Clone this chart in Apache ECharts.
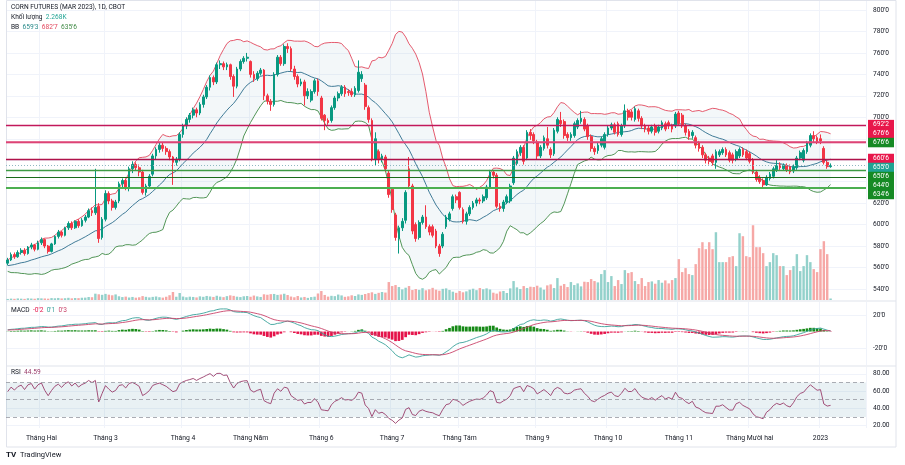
<!DOCTYPE html>
<html>
<head>
<meta charset="utf-8">
<script src="https://cdn.jsdelivr.net/npm/echarts@6/dist/echarts.min.js"></script>
<style>
  html, body { margin: 0; padding: 0; background: #fff; }
  #main { width: 905px; height: 465px; }
</style>
</head>
<body>
<div id="main"></div>
<script>
// month labels of the time scale and the bar index where each month starts
const monthLabels = ['Tháng Hai', 'Tháng 3', 'Tháng 4', 'Tháng Năm', 'Tháng 6', 'Tháng 7', 'Tháng Tám', 'Tháng 9', 'Tháng 10', 'Tháng 11', 'Tháng Mười hai', '2023']
const monthStarts = [10, 29, 52, 72, 93, 114, 134, 157, 178, 199, 220, 241]

const priceTicks = [540, 560, 580, 600, 620, 640, 660, 680, 700, 720, 740, 760, 780, 800]
const macdTicks = [-20, 20]
const rsiTicks = [20, 40, 60, 80]

// horizontal levels drawn on the chart
const resistLevels = [692.25, 676.75, 660.75]
const supportLevels = [676.75, 650.75, 644, 634.75]
const lastPrice = 655

// legend readouts
const volumeText = '2.268K'
const bbText = ["659'3", "682'7", "635'6"]
const macdText = ["-0'2", "0'1", "0'3"]
const rsiText = '44.59'

// closes before the first visible bar (only used to warm up the indicators)
const priorCloses = [554, 556, 553, 551, 555, 558, 556, 552, 550, 553, 557, 559, 556, 554, 557, 560, 562, 559, 557, 560,
  563, 561, 558, 560, 562, 565, 563, 560, 558, 561, 564, 566, 563, 561, 564]

// daily bars: [open, close, low, high]
const ohlc = [
  [564,567,562,569],[567,572,566,574],[572,570,568,574],[570,574,569,576],[574,576,572,578],
  [576,573,571,578],[573,579,572,580],[579,581,577,583],[581,577,575,582],[577,583,576,585],
  [583,586,581,588],[586,580,578,587],[580,575,573,581],[575,582,574,583],[582,589,581,590],
  [589,593,587,595],[593,590,588,594],[590,597,589,598],[597,601,595,603],[601,597,595,603],
  [597,603,596,604],[603,599,597,605],[599,604,598,606],[604,607,602,609],[607,613,606,615],
  [613,611,608,616],[611,616,609,652],[617,587,583,620],[588,605,586,607],[605,629,603,632],
  [629,622,619,631],[622,616,613,624],[616,621,614,623],[622,638,620,640],[638,641,634,643],
  [641,635,632,643],[634,652,631,654],[652,656,648,659],[656,653,650,658],[653,649,645,656],
  [649,630,628,651],[630,636,627,638],[636,645,634,647],[647,664,645,666],[664,670,661,672],
  [670,674,667,676],[674,671,668,676],[671,668,665,673],[668,663,660,670],[663,658,637,664],
  [658,661,655,663],[661,684,659,686],[684,692,681,694],[692,698,689,700],[698,702,695,704],
  [702,707,699,709],[707,704,700,709],[704,712,702,714],[712,719,709,721],[719,728,717,730],
  [728,737,725,739],[737,733,730,739],[733,749,731,751],[749,750,745,753],[750,747,744,752],
  [747,749,744,751],[749,738,735,750],[738,729,719,740],[729,745,727,747],[745,752,743,754],
  [752,755,750,757],[755,756,752,760],[752,740,737,753],[740,736,733,743],[736,741,734,743],
  [741,744,739,746],[744,720,716,745],[720,715,712,722],[715,712,706,717],[712,740,710,742],
  [740,756,738,758],[756,750,748,758],[750,766,748,768],[766,764,760,769],[764,745,743,766],
  [745,738,735,748],[738,731,728,740],[731,733,729,736],[733,720,711,735],[720,724,717,727],
  [716,724,714,726],[724,734,722,736],[734,724,720,736],[718,699,697,720],[702,697,688,703],
  [697,695,693,699],[697,709,695,711],[709,718,707,720],[718,722,715,724],[722,728,720,730],
  [728,722,719,730],[724,723,720,726],[724,721,719,727],[721,727,719,729],[725,742,723,753],
  [736,740,733,743],[730,710,707,732],[709,698,695,711],[697,661,659,699],[661,680,655,686],
  [668,661,657,670],[661,664,658,666],[663,652,649,665],[648,628,625,650],[633,614,611,635],
  [609,588,585,611],[587,597,573,599],[597,603,594,606],[604,630,601,632],[652,636,633,663],
  [636,594,591,638],[600,587,584,602],[588,602,586,604],[602,607,600,609],[607,598,596,618],
  [598,593,590,600],[598,590,588,600],[594,580,578,596],[580,573,570,582],[580,591,578,593],
  [598,607,596,609],[605,610,603,612],[615,626,613,628],[626,623,620,628],[630,616,614,631],
  [614,603,601,616],[603,610,600,612],[610,616,608,618],[616,620,614,622],[620,623,617,625],
  [623,622,619,625],[622,626,620,628],[625,635,623,637],[635,649,633,651],[649,646,643,651],
  [646,617,615,648],[617,615,612,620],[615,621,612,623],[621,626,619,628],[622,636,620,638],
  [639,662,637,664],[657,668,655,670],[667,672,664,674],[672,659,656,674],[662,686,660,688],
  [686,683,679,689],[684,678,675,686],[677,664,661,679],[664,672,662,674],[671,681,669,683],
  [680,674,671,691],[670,665,662,672],[666,688,664,690],[687,698,685,700],[697,694,691,705],
  [696,683,680,698],[684,681,678,686],[681,684,678,686],[683,694,681,696],[691,697,689,699],
  [696,699,694,706],[698,689,687,700],[692,682,679,694],[682,671,668,684],[671,668,665,673],
  [669,674,666,676],[674,680,672,682],[672,684,670,686],[684,690,682,692],[690,693,688,695],
  [693,686,684,695],[694,684,682,696],[684,692,682,694],[692,706,690,712],[706,700,697,708],
  [705,700,697,707],[698,708,696,710],[706,699,696,708],[699,692,689,701],[692,689,686,694],
  [690,687,684,692],[687,691,685,693],[692,686,683,694],[687,691,685,693],[690,695,688,697],
  [694,689,687,696],[695,692,689,697],[692,689,686,694],[692,703,690,705],[704,694,692,706],
  [702,692,690,704],[692,686,683,694],[687,682,679,689],[683,686,680,688],[681,674,671,683],
  [676,671,668,678],[672,665,662,674],[665,660,657,667],[662,659,656,664],[664,658,655,666],
  [658,668,652,670],[665,668,663,670],[667,670,665,672],[670,665,663,672],[667,660,658,669],
  [665,660,657,667],[661,668,659,670],[664,670,662,672],[670,665,663,672],[668,662,660,670],
  [666,659,657,668],[660,649,647,662],[649,642,640,651],[644,640,638,646],[641,637,635,643],
  [637,644,636,646],[643,647,641,649],[645,652,643,654],[651,655,649,660],[656,653,651,658],
  [652,655,650,657],[655,651,649,657],[654,649,647,656],[650,654,648,656],[653,662,651,664],
  [662,667,660,669],[660,669,658,671],[668,676,666,678],[674,683,672,685],[683,680,677,687],
  [681,677,675,683],[680,678,675,684],[671,658,656,673],[658,654,652,660],[654,655,653,657]
]

// daily volume, thousands of contracts
const volume = [
  1.6,2.1,1.8,2.4,2.0,1.7,2.6,2.2,1.9,2.8,2.5,2.3,2.0,2.9,2.6,3.1,2.4,2.7,3.3,2.5,3.0,2.8,3.4,3.6,
  4.5,4.2,
  9.5,8.6,7.8,9.2,8.0,7.1,8.4,
  5.6,4.4,5.1,3.8,4.6,3.5,4.1,5.9,4.8,3.9,4.7,5.3,4.2,3.6,4.9,
  7.2,12.0,4.9,10.5,
  5.2,4.1,5.0,4.6,3.9,
  5.5,4.8,6.1,5.3,4.6,6.4,5.1,4.3,5.8,7.0,6.2,5.0,4.4,5.6,6.0,4.9,6.7,5.4,4.6,
  8.6,7.9,8.8,9.1,7.7,8.3,9.4,7.5,
  5.2,4.1,6.0,3.8,4.6,3.2,4.4,5.0,
  9.8,13.5,
  7.6,5.1,6.3,5.8,8.2,6.9,4.8,5.5,7.1,6.0,8.4,7.7,
  9.0,10.4,11.6,9.2,10.8,12.0,11.2,
  27,21,22.5,19.5,
  16,18.5,21,15,
  16.5,15.2,17.8,14.6,16.0,18.3,15.5,14.0,16.8,17.5,15.0,
  12.5,10.8,13.5,11.6,13.0,
  15.5,17.0,14.8,18.0,16.2,17.5,15.8,
  11.0,9.6,12.8,13.6,10.5,
  17.5,28.5,
  19.0,16.5,21.0,18.0,
  20.0,19.5,21.5,18.8,
  15.5,22.0,23.5,18.0,
  33,
  21.5,24.0,19.5,27.0,22.5,25.0,20.5,27.5,
  27.0,31.5,28.5,26.5,39.0,45.0,
  27.0,36.0,21.0,30.0,24.0,
  45,
  40.5,42.0,
  28.5,24.0,33.0,21.0,27.0,
  28.0,24.5,30.0,26.0,29.5,25.0,
  30.0,33.0,
  61.5,
  42.0,48.0,39.0,37.5,
  54,
  78.0,87.0,76.5,87.0,76.5,102.0,
  57.0,57.0,57.0,
  64.5,66.0,51.0,
  100.5,96.0,66.0,64.5,
  112.5,
  79.5,79.5,70.5,51.0,57.0,70.5,67.5,51.0,51.0,37.5,45.0,51.0,
  69.0,43.5,51.0,67.5,57.0,46.5,42.0,76.5,88.5,69.0,2.268
]

// ---------- helpers ----------
function fmt8(v) {
  const neg = v < 0
  v = Math.abs(v)
  let i = Math.floor(v + 1e-9)
  let f = Math.round((v - i) * 8)
  if (f === 8) { i++; f = 0 }
  return (neg ? '-' : '') + i + "'" + f
}

const UP = '#089981', DOWN = '#F23645'
const FONT = 'Roboto'
const TXT = '#131722'
const RED_BOX = '#E8174B', GREEN_BOX = '#168A24', TEAL_BOX = '#1FA393'

// indicators from closes (warm-up bars are dropped afterwards)
const closes = priorCloses.concat(ohlc.map(d => d[1]))
const skip = priorCloses.length

const bbMid = [], bbUp = [], bbLow = []
closes.forEach((c, i) => {
  if (i < 19) { bbMid.push(null); bbUp.push(null); bbLow.push(null); return }
  const w = closes.slice(i - 19, i + 1)
  const m = w.reduce((a, b) => a + b, 0) / 20
  const sd = Math.sqrt(w.reduce((a, b) => a + (b - m) * (b - m), 0) / 20)
  bbMid.push(m); bbUp.push(m + 2 * sd); bbLow.push(m - 2 * sd)
})

function ema(arr, n) {
  const k = 2 / (n + 1)
  const out = []
  arr.forEach((v, i) => out.push(i === 0 ? v : v * k + out[i - 1] * (1 - k)))
  return out
}
const e12 = ema(closes, 12), e26 = ema(closes, 26)
const macd = closes.map((c, i) => e12[i] - e26[i])
const signal = ema(macd, 9)
const hist = macd.map((m, i) => m - signal[i])

const rsi = [null]
let ag = 0, al = 0
for (let i = 1; i < closes.length; i++) {
  const d = closes[i] - closes[i - 1]
  const g = Math.max(d, 0), l = Math.max(-d, 0)
  if (i <= 14) {
    ag += g / 14; al += l / 14
    rsi.push(i === 14 ? 100 - 100 / (1 + ag / (al || 1e-9)) : null)
  } else {
    ag = (ag * 13 + g) / 14; al = (al * 13 + l) / 14
    rsi.push(100 - 100 / (1 + ag / (al || 1e-9)))
  }
}

const vis = a => a.slice(skip)
const upperV = vis(bbUp), lowerV = vis(bbLow), midV = vis(bbMid)

const N = ohlc.length + 10
const cats = Array.from({ length: N }, (_, i) => String(i))

function xAxis(gi, labels) {
  return {
    type: 'category', gridIndex: gi, data: cats, boundaryGap: true,
    axisLine: { show: false }, axisTick: { show: false },
    axisLabel: {
      show: labels,
      interval: i => monthStarts.indexOf(i) >= 0,
      formatter: (v, i) => monthLabels[monthStarts.indexOf(i)] || '',
      fontSize: 6.8, fontFamily: FONT, color: TXT, margin: 7
    },
    splitLine: { show: true, interval: i => monthStarts.indexOf(i) >= 0, lineStyle: { color: '#F0F3FA' } }
  }
}

// level lines (labels are drawn as boxes on the price scale afterwards)
const lineDefs = []
supportLevels.forEach((v, k) => {
  lineDefs.push({
    yAxis: v,
    lineStyle: { color: ['#D21F5C', '#3E9B45', '#1A6B1A', '#4CAF50'][k], width: [1.3, 1.3, 1.2, 1.8][k], type: 'solid' }
  })
})
resistLevels.forEach((v, k) => {
  lineDefs.push({
    yAxis: v,
    lineStyle: { color: ['#C2185B', '#E0507E', '#B0124A'][k], width: [1.3, 1.5, 1.3][k], type: 'solid' }
  })
})
lineDefs.push({ yAxis: lastPrice, lineStyle: { color: '#8FB8C0', width: 1, type: [1, 2] } })

const chart = echarts.init(document.getElementById('main'))

chart.setOption({
  animation: false,
  backgroundColor: '#fff',
  grid: [
    { left: 6, right: 39, top: 1, height: 299 },
    { left: 6, right: 39, top: 302, height: 63 },
    { left: 6, right: 39, top: 367, height: 61 }
  ],
  xAxis: [xAxis(0, false), xAxis(1, false), xAxis(2, true)],
  yAxis: [
    {
      type: 'value', gridIndex: 0, position: 'right', min: 529.7, max: 808.4,
      axisLine: { show: false }, axisTick: { show: false, customValues: priceTicks },
      axisLabel: { customValues: priceTicks, formatter: fmt8, fontSize: 6.6, fontFamily: FONT, color: TXT, margin: 7 },
      splitLine: { show: true, lineStyle: { color: '#F0F3FA' } }
    },
    { type: 'value', gridIndex: 0, min: 0, max: 450, show: false },
    {
      type: 'value', gridIndex: 1, position: 'right', min: -40.6, max: 35.8,
      axisLine: { show: false }, axisTick: { show: false, customValues: macdTicks },
      axisLabel: { customValues: macdTicks, formatter: fmt8, fontSize: 6.6, fontFamily: FONT, color: TXT, margin: 7 },
      splitLine: { show: true, lineStyle: { color: '#F0F3FA' } }
    },
    {
      type: 'value', gridIndex: 2, position: 'right', min: 17.1, max: 87.9,
      axisLine: { show: false }, axisTick: { show: false, customValues: rsiTicks },
      axisLabel: { customValues: rsiTicks, formatter: v => v.toFixed(2), fontSize: 6.6, fontFamily: FONT, color: TXT, margin: 7 },
      splitLine: { show: true, lineStyle: { color: '#F0F3FA' } }
    }
  ],
  series: [
    {
      type: 'bar', xAxisIndex: 0, yAxisIndex: 1, barWidth: '72%', z: 1, silent: true,
      data: volume.map((v, i) => ({ value: v, itemStyle: { color: ohlc[i][1] >= ohlc[i][0] ? '#93D1CB' : '#F6A8A6' } }))
    },
    {
      type: 'line', xAxisIndex: 0, yAxisIndex: 0, stack: 'bb', data: lowerV, symbol: 'none', z: 2,
      lineStyle: { color: '#3F8A45', width: 0.9 }
    },
    {
      type: 'line', xAxisIndex: 0, yAxisIndex: 0, stack: 'bb', symbol: 'none', z: 2,
      data: upperV.map((u, i) => u - lowerV[i]),
      lineStyle: { color: '#E2485E', width: 0.9 },
      areaStyle: { color: 'rgba(120,165,180,0.12)' }
    },
    {
      type: 'line', xAxisIndex: 0, yAxisIndex: 0, data: midV, symbol: 'none', z: 2,
      lineStyle: { color: '#2C6D8C', width: 0.9 }
    },
    {
      type: 'candlestick', xAxisIndex: 0, yAxisIndex: 0, data: ohlc, barWidth: '66%', z: 3,
      itemStyle: { color: UP, color0: DOWN, borderColor: UP, borderColor0: DOWN, borderWidth: 1 },
      markLine: { symbol: ['none', 'none'], silent: true, animation: false, label: { show: false }, data: lineDefs }
    },
    {
      type: 'bar', xAxisIndex: 1, yAxisIndex: 2, barWidth: '80%',
      data: vis(hist).map(h => ({ value: h, itemStyle: { color: h >= 0 ? '#168A16' : '#E5134A' } }))
    },
    {
      type: 'line', xAxisIndex: 1, yAxisIndex: 2, data: vis(macd), symbol: 'none',
      lineStyle: { color: '#3AA39B', width: 0.9 }
    },
    {
      type: 'line', xAxisIndex: 1, yAxisIndex: 2, data: vis(signal), symbol: 'none',
      lineStyle: { color: '#C9436A', width: 0.9 }
    },
    {
      type: 'line', xAxisIndex: 2, yAxisIndex: 3, data: vis(rsi), symbol: 'none',
      lineStyle: { color: '#983C6A', width: 0.9 },
      markArea: { silent: true, itemStyle: { color: 'rgba(120,170,185,0.16)' }, data: [[{ yAxis: 30 }, { yAxis: 70 }]] },
      markLine: {
        silent: true, symbol: ['none', 'none'], label: { show: false },
        lineStyle: { color: '#9598A1', type: [4, 3], width: 0.8 },
        data: [{ yAxis: 70 }, { yAxis: 50 }, { yAxis: 30 }]
      }
    }
  ]
})

// price-scale boxes: each sits at its level, nudged so the boxes stack without overlapping
const toY = v => chart.convertToPixel({ yAxisIndex: 0 }, v)
const boxes = [
  { v: resistLevels[0], bg: RED_BOX, dy: -1 },
  { v: resistLevels[1], bg: RED_BOX, dy: -8.7 },
  { v: supportLevels[0], bg: GREEN_BOX, dy: 0.3 },
  { v: resistLevels[2], bg: RED_BOX, dy: -0.9 },
  { v: lastPrice, bg: TEAL_BOX, dy: 1.9 },
  { v: supportLevels[1], bg: GREEN_BOX, dy: 6.4 },
  { v: supportLevels[2], bg: GREEN_BOX, dy: 8.1 },
  { v: supportLevels[3], bg: GREEN_BOX, dy: 7.2 }
]
const boxGraphics = boxes.map(b => ({
  type: 'text', x: 868, y: toY(b.v) + b.dy, z: 100,
  style: {
    text: fmt8(b.v), fill: '#fff', backgroundColor: b.bg, padding: [1.5, 5, 1, 5],
    verticalAlign: 'middle', fontSize: 6.6, fontFamily: FONT, lineHeight: 7
  }
}))

const legendFont = { fontSize: 6.6, fontFamily: FONT }
chart.setOption({
  graphic: [
    { type: 'rect', shape: { x: 6.5, y: 0.5, width: 889.5, height: 446.5 }, style: { fill: 'none', stroke: '#E0E3EB', lineWidth: 1 }, silent: true },
    { type: 'line', shape: { x1: 6.5, y1: 301, x2: 896, y2: 301 }, style: { stroke: '#E0E3EB', lineWidth: 1.2 }, silent: true },
    { type: 'line', shape: { x1: 6.5, y1: 366, x2: 896, y2: 366 }, style: { stroke: '#E0E3EB', lineWidth: 1.2 }, silent: true },
    ...boxGraphics,
    { type: 'text', x: 11, y: 4, style: Object.assign({ text: 'CORN FUTURES (MAR 2023), 1D, CBOT', fill: TXT }, legendFont) },
    {
      type: 'text', x: 11, y: 14,
      style: Object.assign({ text: '{a|Khối lượng}  {b|' + volumeText + '}', rich: { a: { fill: TXT }, b: { fill: '#22A595' } } }, legendFont)
    },
    {
      type: 'text', x: 11, y: 24,
      style: Object.assign({
        text: '{a|BB}  {b|' + bbText[0] + '}  {c|' + bbText[1] + '}  {d|' + bbText[2] + '}',
        rich: { a: { fill: TXT }, b: { fill: '#2C8C8C' }, c: { fill: '#E2485E' }, d: { fill: '#3F8A45' } }
      }, legendFont)
    },
    {
      type: 'text', x: 11, y: 307,
      style: Object.assign({
        text: '{a|MACD}  {b|' + macdText[0] + '}  {c|' + macdText[1] + '}  {d|' + macdText[2] + '}',
        rich: { a: { fill: TXT }, b: { fill: '#E5134A' }, c: { fill: '#3AA39B' }, d: { fill: '#C9436A' } }
      }, legendFont)
    },
    {
      type: 'text', x: 11, y: 369,
      style: Object.assign({ text: '{a|RSI}  {b|' + rsiText + '}', rich: { a: { fill: TXT }, b: { fill: '#983C6A' } } }, legendFont)
    },
    { type: 'text', x: 6, y: 451, style: { text: 'TV', fill: '#131722', fontSize: 8, fontWeight: 'bold', fontFamily: FONT } },
    { type: 'text', x: 20, y: 451, style: { text: 'TradingView', fill: '#131722', fontSize: 7.5, fontFamily: FONT } }
  ]
})
</script>
</body>
</html>
